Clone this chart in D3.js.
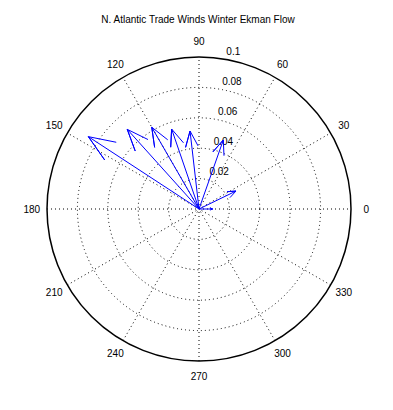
<!DOCTYPE html>
<html><head><meta charset="utf-8">
<script src="https://cdn.jsdelivr.net/npm/d3@7"></script>
<style>body{margin:0;background:#fff}text{font-family:"Liberation Sans",Arial,sans-serif;font-size:10px;fill:#000}</style>
</head><body>
<script>
const title = "N. Atlantic Trade Winds Winter Ekman Flow";
// vector components (east, north)
const uValues = [-0.0728, -0.0472, -0.0311, -0.0180, -0.0059, 0.0160, 0.0243, 0.0090];
const vValues = [ 0.0476,  0.0524,  0.0538,  0.0526,  0.0513, 0.0454, 0.0118, 0.0000];
const ringValues = [0.02, 0.04, 0.06, 0.08, 0.1];
const ringLabels = ["0.02", "0.04", "0.06", "0.08", "0.1"];
const angleTicks = [0, 30, 60, 90, 120, 150, 180, 210, 240, 270, 300, 330];
const rMax = 0.1;

const W = 393, H = 410, cx = 199, cy = 209, R = 152;
const svg = d3.select("body").append("svg").attr("width", W).attr("height", H);
const r = d3.scaleLinear().domain([0, rMax]).range([0, R]);
const g = svg.append("g").attr("transform", `translate(${cx},${cy})`);
const rad = d => d * Math.PI / 180;

// spokes (full diameters)
angleTicks.filter(a => a < 180).forEach(a => {
  const c = Math.cos(rad(a)), s = Math.sin(rad(a));
  g.append("line").attr("x1", -r(rMax) * c).attr("y1", r(rMax) * s)
    .attr("x2", r(rMax) * c).attr("y2", -r(rMax) * s)
    .attr("stroke", "#000").attr("stroke-width", 1).attr("stroke-dasharray", "1,3");
});
// rings
ringValues.forEach((v, i) => {
  const last = i === ringValues.length - 1;
  g.append("circle").attr("r", r(v)).attr("fill", "none").attr("stroke", "#000")
    .attr("stroke-width", last ? 1.5 : 1)
    .attr("stroke-dasharray", last ? null : "1,3");
});
// ring labels at 82 degrees
const c82 = Math.cos(rad(82)), s82 = Math.sin(rad(82));
ringValues.forEach((v, i) => {
  const rr = r(v + rMax / 5 / 20);
  g.append("text").attr("x", rr * c82 + 6).attr("y", -rr * s82 - 2)
    .attr("text-anchor", "start").text(ringLabels[i]);
});
// angle labels
angleTicks.forEach(a => {
  const rr = r(1.1 * rMax);
  g.append("text").attr("x", rr * Math.cos(rad(a))).attr("y", -rr * Math.sin(rad(a)))
    .attr("text-anchor", "middle").attr("dominant-baseline", "central").text(String(a));
});
// arrows (compass style)
const xx = [0, 1, 0.8, 1, 0.8], yy = [0, 0, 0.08, 0, -0.08];
uValues.forEach((u, i) => {
  const v = vValues[i];
  const pts = xx.map((x, k) => {
    // complex multiply (x + i y)*(u + i v)
    const re = x * u - yy[k] * v, im = x * v + yy[k] * u;
    return [r(re), -r(im)];
  });
  g.append("path").attr("d", d3.line()(pts)).attr("fill", "none")
    .attr("stroke", "#0000ff").attr("stroke-width", 1);
});
svg.append("text").attr("x", 198).attr("y", 23).attr("text-anchor", "middle").text(title);
</script>
</body></html>
